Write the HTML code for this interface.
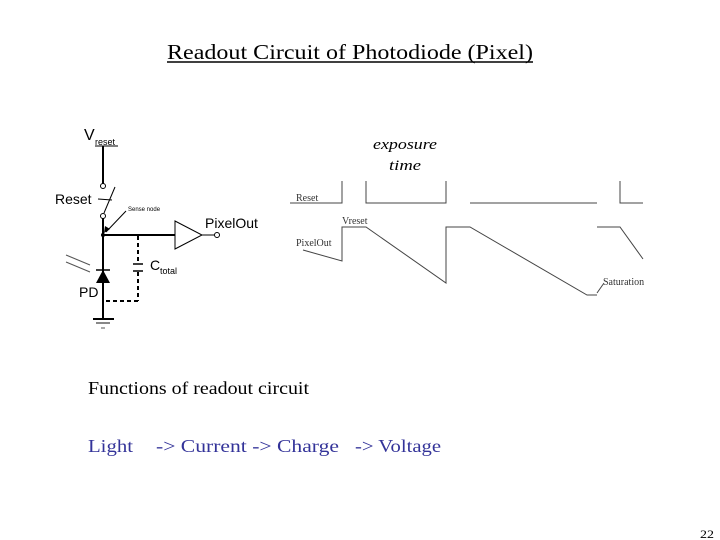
<!DOCTYPE html>
<html><head><meta charset="utf-8"><style>
html,body{margin:0;padding:0;background:#fff;}
body{width:720px;height:540px;position:relative;overflow:hidden;}
</style></head><body>
<svg width="720" height="540" style="position:absolute;left:0;top:0" xmlns="http://www.w3.org/2000/svg">
<g font-family="Liberation Serif, serif" fill="#000">
<text x="167" y="59" font-size="21" textLength="366" lengthAdjust="spacingAndGlyphs">Readout Circuit of Photodiode (Pixel)</text>
<line x1="167" y1="62" x2="533" y2="62" stroke="#000" stroke-width="1.5"/>
<text x="373" y="149" font-size="15" font-style="italic" textLength="64" lengthAdjust="spacingAndGlyphs">exposure</text>
<text x="389" y="170" font-size="15" font-style="italic" textLength="32" lengthAdjust="spacingAndGlyphs">time</text>
<text x="88" y="394" font-size="18" textLength="221" lengthAdjust="spacingAndGlyphs">Functions of readout circuit</text>
<g fill="#333399" font-size="18">
<text x="88" y="452" textLength="45" lengthAdjust="spacingAndGlyphs">Light</text>
<text x="156" y="452" textLength="183" lengthAdjust="spacingAndGlyphs">-&gt; Current -&gt;  Charge</text>
<text x="355" y="452" textLength="86" lengthAdjust="spacingAndGlyphs">-&gt; Voltage</text>
</g>
<text x="700" y="538" font-size="12" textLength="14" lengthAdjust="spacingAndGlyphs">22</text>
</g>
<g font-family="Liberation Sans, sans-serif" fill="#000">
<text x="84" y="140" font-size="16">V</text>
<text x="95" y="145" font-size="9">reset</text>
<line x1="95" y1="146" x2="118" y2="146" stroke="#000" stroke-width="1"/>
<text x="55" y="204" font-size="14">Reset</text>
<text x="128" y="211" font-size="6">Sense node</text>
<text x="205" y="228" font-size="14">PixelOut</text>
<text x="150" y="270" font-size="14">C</text>
<text x="160" y="274" font-size="9">total</text>
<text x="79" y="297" font-size="14">PD</text>
</g>
<g stroke="#000" stroke-width="2" fill="none">
<line x1="103" y1="146" x2="103" y2="184"/>
<line x1="103" y1="218" x2="103" y2="320"/>
<line x1="103" y1="235" x2="175" y2="235"/>
<polygon points="175,221 202,235 175,249" stroke-width="1"/>
<line x1="202" y1="235" x2="214" y2="235" stroke-width="1"/>
<line x1="93" y1="319" x2="114" y2="319"/>
</g>
<g stroke="#000" fill="#fff" stroke-width="1">
<circle cx="103" cy="186" r="2.5"/>
<circle cx="103" cy="216" r="2.5"/>
<circle cx="217" cy="235" r="2.5"/>
<line x1="104" y1="213" x2="115" y2="187"/>
<line x1="98" y1="199" x2="112" y2="200"/>
<line x1="126" y1="211" x2="106" y2="232"/>
</g>
<polygon points="104,233 105,226 110,229" fill="#000"/>
<circle cx="103" cy="235" r="2" fill="#000"/>
<g stroke="#000" stroke-width="2" fill="none" stroke-dasharray="4,3">
<line x1="138" y1="236" x2="138" y2="262"/>
<line x1="138" y1="272" x2="138" y2="301"/>
<line x1="138" y1="301" x2="103" y2="301"/>
</g>
<g stroke="#000" stroke-width="1.5">
<line x1="133" y1="264" x2="143" y2="264"/>
<line x1="133" y1="271" x2="143" y2="271"/>
<line x1="96" y1="270" x2="110" y2="270"/>
</g>
<polygon points="103,270 96,283 110,283" fill="#000"/>
<g stroke="#555" stroke-width="1">
<line x1="66" y1="255" x2="90" y2="265"/>
<line x1="66" y1="262" x2="90" y2="272"/>
<line x1="96" y1="323" x2="110" y2="323" stroke="#888" stroke-width="2"/>
<line x1="101" y1="328" x2="105" y2="328"/>
</g>
<g font-family="Liberation Serif, serif" font-size="10" fill="#333">
<text x="296" y="201">Reset</text>
<text x="342" y="224">Vreset</text>
<text x="296" y="246">PixelOut</text>
<text x="603" y="285">Saturation</text>
</g>
<g stroke="#444" stroke-width="1" fill="none">
<polyline points="290,203 342,203 342,181"/>
<polyline points="366,181 366,203 446,203 446,181"/>
<line x1="470" y1="203" x2="597" y2="203"/>
<polyline points="620,181 620,203 643,203"/>
<polyline points="303,250 342,261 342,227 366,227 446,283 446,227 470,227 587,295 597,295"/>
<line x1="597" y1="293" x2="604" y2="283"/>
<polyline points="597,227 620,227 643,259"/>
</g>
</svg>
</body></html>
